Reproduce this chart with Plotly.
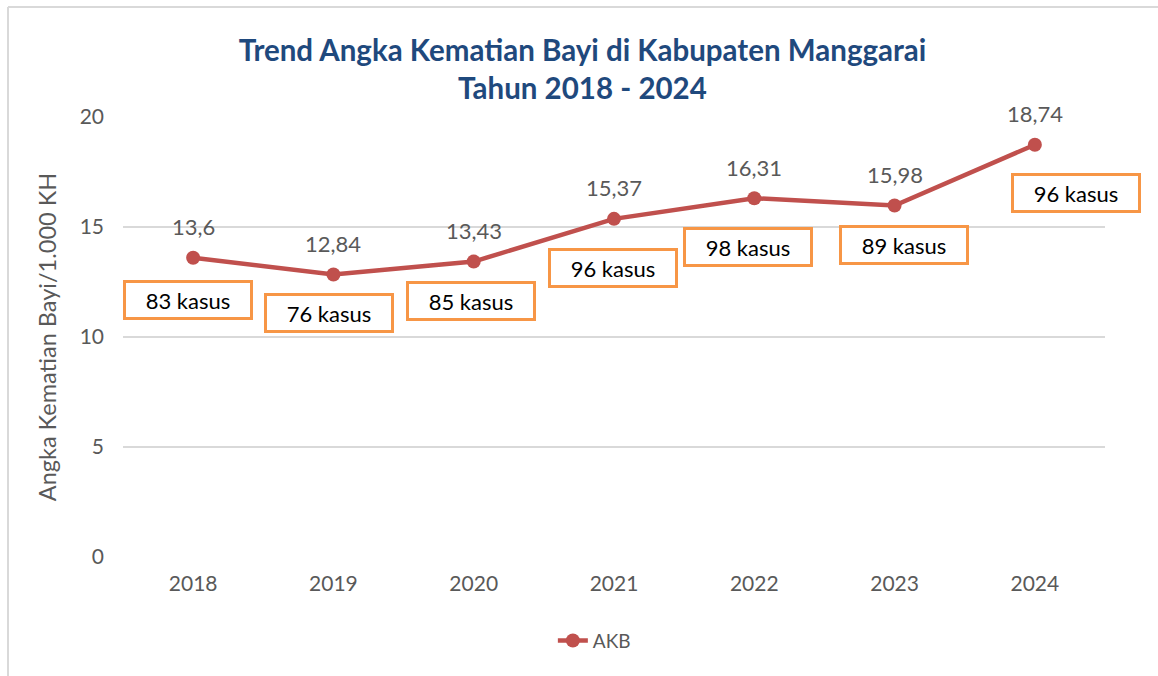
import plotly.graph_objects as go

years = ["2018", "2019", "2020", "2021", "2022", "2023", "2024"]
akb = [13.6, 12.84, 13.43, 15.37, 16.31, 15.98, 18.74]
akb_labels = ["13,6", "12,84", "13,43", "15,37", "16,31", "15,98", "18,74"]
kasus = [83, 76, 85, 96, 98, 89, 96]

# box placement (layout only)
box_dx = [-0.036, -0.03, -0.02, -0.01, -0.044, 0.064, 0.29]
box_y = [11.66, 11.07, 11.64, 13.14, 14.11, 14.16, 16.55]

FONT = "Lato"
GRAY = "#595959"

fig = go.Figure()
fig.add_trace(go.Scatter(
    x=list(range(len(years))), y=akb, mode="lines+markers", name="AKB",
    line=dict(color="#C0504D", width=4.5),
    marker=dict(color="#C0504D", size=14),
))

ann = []
for i, (v, lab) in enumerate(zip(akb, akb_labels)):
    ann.append(dict(x=i, y=v, xref="x", yref="y", text=lab, showarrow=False,
                    yshift=31, font=dict(family=FONT, size=22, color=GRAY)))
for i, k in enumerate(kasus):
    ann.append(dict(x=i + box_dx[i], y=box_y[i], xref="x", yref="y",
                    text=f"{k} kasus", showarrow=False,
                    font=dict(family=FONT, size=22, color="#000000"),
                    bgcolor="white", bordercolor="#F79646", borderwidth=3,
                    borderpad=1, width=122, height=32))

fig.update_layout(
    width=1158, height=676,
    margin=dict(l=123, r=53, t=117, b=119),
    paper_bgcolor="white", plot_bgcolor="white",
    title=dict(text="<b>Trend Angka Kematian Bayi di Kabupaten Manggarai<br>Tahun 2018 - 2024</b>",
               x=0.503, xanchor="center", y=0.910, yanchor="middle",
               font=dict(family=FONT, size=29.5, color="#1F497D")),
    xaxis=dict(tickmode="array", tickvals=list(range(len(years))), ticktext=years,
               range=[-0.5, 6.5], showgrid=False, zeroline=False, showline=False,
               ticks="", ticklabelstandoff=12,
               tickfont=dict(family=FONT, size=21, color=GRAY)),
    yaxis=dict(range=[0, 20], dtick=5, showgrid=True, gridcolor="#D9D9D9", gridwidth=1.5,
               zeroline=False, showline=False, ticks="", ticklabelstandoff=18,
               tickfont=dict(family=FONT, size=21, color=GRAY),
               title=dict(text="Angka Kematian Bayi/1.000 KH", standoff=16,
                          font=dict(family=FONT, size=23.5, color=GRAY))),
    showlegend=True,
    legend=dict(orientation="h", x=0.48, xanchor="center", y=-0.19, yanchor="middle",
                font=dict(family=FONT, size=19, color=GRAY)),
    annotations=ann,
    shapes=[dict(type="line", xref="paper", yref="paper", x0=-0.1171, x1=1.1, y0=1.25, y1=1.25,
                 line=dict(color="#D9D9D9", width=2)),
            dict(type="line", xref="paper", yref="paper", x0=-0.1171, x1=-0.1171, y0=1.25, y1=-0.3,
                 line=dict(color="#D9D9D9", width=2))],
)

fig.write_html("out.html")
